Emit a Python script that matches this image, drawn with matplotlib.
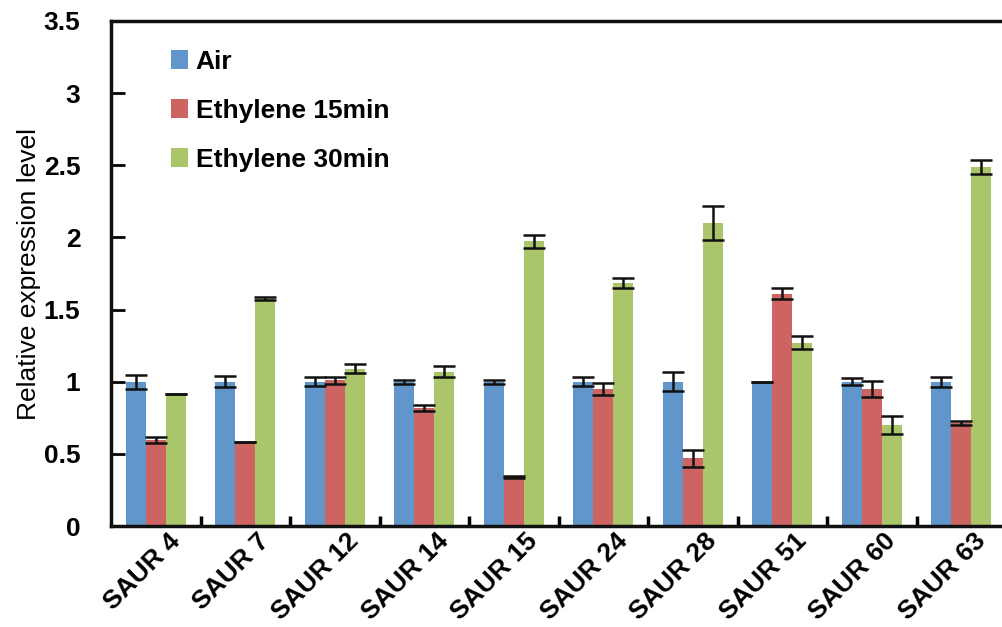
import matplotlib
matplotlib.use("Agg")
import matplotlib.pyplot as plt
import matplotlib.transforms as mtransforms
import numpy as np

categories = ["SAUR 4", "SAUR 7", "SAUR 12", "SAUR 14", "SAUR 15",
              "SAUR 24", "SAUR 28", "SAUR 51", "SAUR 60", "SAUR 63"]
series_names = ["Air", "Ethylene 15min", "Ethylene 30min"]
air = [1.0, 1.0, 1.0, 1.0, 1.0, 1.0, 1.0, 1.0, 1.0, 1.0]
air_err = [0.05, 0.04, 0.03, 0.015, 0.015, 0.03, 0.065, 0.0, 0.025, 0.035]
eth15 = [0.595, 0.58, 1.01, 0.82, 0.34, 0.95, 0.47, 1.61, 0.95, 0.715]
eth15_err = [0.02, 0.0, 0.025, 0.02, 0.01, 0.04, 0.06, 0.04, 0.055, 0.015]
eth30 = [0.915, 1.575, 1.09, 1.07, 1.975, 1.685, 2.10, 1.27, 0.70, 2.49]
eth30_err = [0.0, 0.01, 0.03, 0.04, 0.045, 0.035, 0.12, 0.045, 0.065, 0.05]
yticks = [0, 0.5, 1, 1.5, 2, 2.5, 3, 3.5]
ytick_labels = ["0", "0.5", "1", "1.5", "2", "2.5", "3", "3.5"]

colors = ["#6096C9", "#CD6461", "#ABC56B"]

plt.rcParams['font.family'] = ['Liberation Sans', 'DejaVu Sans']

fig = plt.figure(figsize=(10.02, 6.27), dpi=100)
W, H = 1002, 627
ax = fig.add_axes([111 / W, (H - 526) / H, 895 / W, 505 / H])

x = np.arange(len(categories))
bw = 0.223
for i, (vals, errs) in enumerate([(air, air_err), (eth15, eth15_err), (eth30, eth30_err)]):
    ax.bar(x + (i - 1) * bw, vals, bw, color=colors[i], label=series_names[i],
           yerr=errs, error_kw=dict(ecolor="#111111", elinewidth=1.8, capsize=8, capthick=1.8),
           zorder=2)

ax.set_xlim(-0.5, len(categories) - 0.5)
ax.set_ylim(0, 3.5)
ax.set_yticks(yticks)
ax.set_yticklabels(ytick_labels, fontsize=19, fontweight='bold')
ax.tick_params(axis='y', direction='in', length=10, width=2, pad=22)

# group boundary ticks on x axis
ax.set_xticks(x[:-1] + 0.5, minor=True)
ax.set_xticks(x)
ax.set_xticklabels(categories, fontsize=19, fontweight='bold', rotation=45,
                   ha='right', rotation_mode='anchor')
ax.tick_params(axis='x', which='major', length=0, pad=2)
ax.tick_params(axis='x', which='minor', direction='in', length=7, width=2.5)
offset = mtransforms.ScaledTranslation(12 / 100, 0, fig.dpi_scale_trans)
for lbl in ax.get_xticklabels():
    lbl.set_transform(lbl.get_transform() + offset)

for side in ['left', 'bottom', 'top']:
    ax.spines[side].set_linewidth(2.5)
    ax.spines[side].set_color('#111111')
ax.spines['right'].set_visible(False)

ax.set_ylabel("Relative expression level", fontsize=19, labelpad=2)

leg = ax.legend(loc='upper left', bbox_to_anchor=(0.04, 0.99), frameon=False,
                prop=dict(size=19, weight='bold'), handlelength=0.65, handleheight=0.7,
                handletextpad=0.3, labelspacing=0.95)

fig.savefig("out.png", dpi=100)
